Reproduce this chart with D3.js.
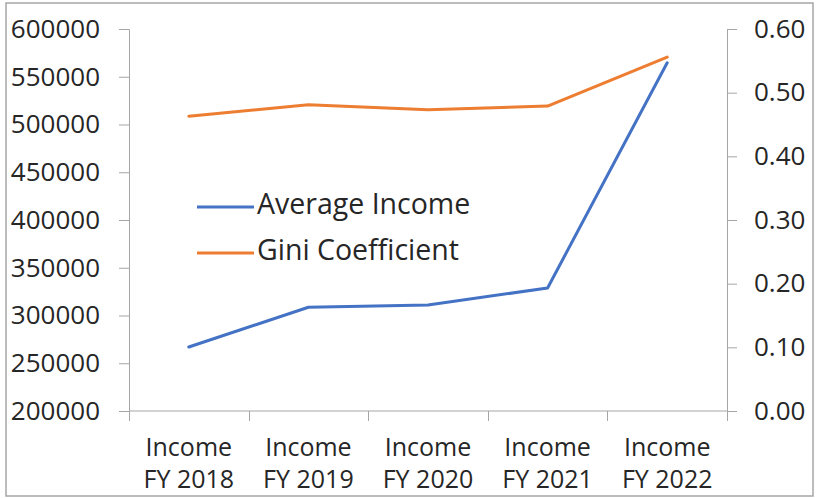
<!DOCTYPE html>
<html>
<head>
<meta charset="utf-8">
<script src="https://cdn.jsdelivr.net/npm/d3@7"></script>
<style>
  html, body { margin: 0; padding: 0; background: #fff; }
  svg { display: block; }
  text { font-family: "Open Sans", "Noto Sans", sans-serif; fill: #262626; }
</style>
</head>
<body>
<svg id="chart" width="817" height="498"></svg>
<script>
// Fiscal years on the category axis
const categories = ["Income FY 2018", "Income FY 2019", "Income FY 2020", "Income FY 2021", "Income FY 2022"];
// Average income (left axis)
const averageIncome = [267000, 308600, 311000, 328800, 564700];
// Gini coefficient (right axis)
const giniCoefficient = [0.463, 0.481, 0.473, 0.479, 0.556];
// Axis ticks
const leftTicks = [200000, 250000, 300000, 350000, 400000, 450000, 500000, 550000, 600000];
const rightTicks = [0, 0.1, 0.2, 0.3, 0.4, 0.5, 0.6];

const svg = d3.select("#chart");
const plot = { left: 129, right: 727, top: 29, bottom: 411 };
const font = '"Open Sans", "Noto Sans", sans-serif';

// outer frame
svg.append("rect")
  .attr("x", 6).attr("y", 3).attr("width", 807).attr("height", 493)
  .attr("fill", "#fff").attr("stroke", "#a6a6a6").attr("stroke-width", 1.5);

const x = d3.scaleBand().domain(categories).range([plot.left, plot.right]);
const yL = d3.scaleLinear().domain([200000, 600000]).range([plot.bottom, plot.top]);
const yR = d3.scaleLinear().domain([0, 0.6]).range([plot.bottom, plot.top]);

const axisColor = "#a6a6a6";

// left axis
const gL = svg.append("g").attr("transform", `translate(${plot.left},0)`)
  .call(d3.axisLeft(yL).tickValues(leftTicks).tickFormat(d3.format("d")).tickSize(10).tickPadding(19));
// right axis
const gR = svg.append("g").attr("transform", `translate(${plot.right},0)`)
  .call(d3.axisRight(yR).tickValues(rightTicks).tickFormat(d3.format(".2f")).tickSize(10).tickPadding(17));
// bottom axis: ticks at band boundaries
const gB = svg.append("g").attr("transform", `translate(0,${plot.bottom})`);
gB.append("line").attr("x1", plot.left).attr("x2", plot.right)
  .attr("stroke", axisColor).attr("stroke-width", 1);
const bounds = categories.map(c => x(c)).concat([plot.right]);
gB.selectAll("line.tick").data(bounds).join("line").attr("class", "tick")
  .attr("x1", d => Math.round(d) + 0.5).attr("x2", d => Math.round(d) + 0.5)
  .attr("y1", 0).attr("y2", 10).attr("stroke", axisColor);
const lbl = gB.selectAll("text.cat").data(categories).join("text").attr("class", "cat")
  .attr("text-anchor", "middle").attr("font-size", 25)
  .attr("transform", d => `translate(${x(d) + x.bandwidth() / 2},0)`);
lbl.append("tspan").attr("x", 0).attr("y", 45).text(d => d.split(" ")[0]);
lbl.append("tspan").attr("x", 0).attr("y", 77).text(d => d.split(" ").slice(1).join(" "));

[gL, gR].forEach(g => {
  g.select(".domain").attr("stroke", axisColor);
  g.selectAll(".tick line").attr("stroke", axisColor);
  g.selectAll(".tick text").attr("font-size", 26).attr("fill", "#262626")
    .style("font-family", font);
});

const cx = d => x(d) + x.bandwidth() / 2;

// series lines
const lineL = d3.line().x((d, i) => cx(categories[i])).y(d => yL(d));
const lineR = d3.line().x((d, i) => cx(categories[i])).y(d => yR(d));

svg.append("path").datum(averageIncome).attr("d", lineL)
  .attr("fill", "none").attr("stroke", "#4472C4").attr("stroke-width", 3).attr("stroke-linejoin", "round").attr("stroke-linecap", "round");
svg.append("path").datum(giniCoefficient).attr("d", lineR)
  .attr("fill", "none").attr("stroke", "#ED7D31").attr("stroke-width", 3).attr("stroke-linejoin", "round").attr("stroke-linecap", "round");

// legend: swatch line and label per series
const legend = [
  { name: "Average Income", color: "#4472C4", lineY: 207, baseY: 213.5 },
  { name: "Gini Coefficient", color: "#ED7D31", lineY: 253, baseY: 260 }
];
const lg = svg.append("g");
legend.forEach(l => {
  lg.append("line").attr("x1", 197).attr("x2", 254).attr("y1", l.lineY).attr("y2", l.lineY)
    .attr("stroke", l.color).attr("stroke-width", 3);
  lg.append("text").attr("x", 257).attr("y", l.baseY)
    .attr("font-size", 28.5).text(l.name);
});
</script>
</body>
</html>
